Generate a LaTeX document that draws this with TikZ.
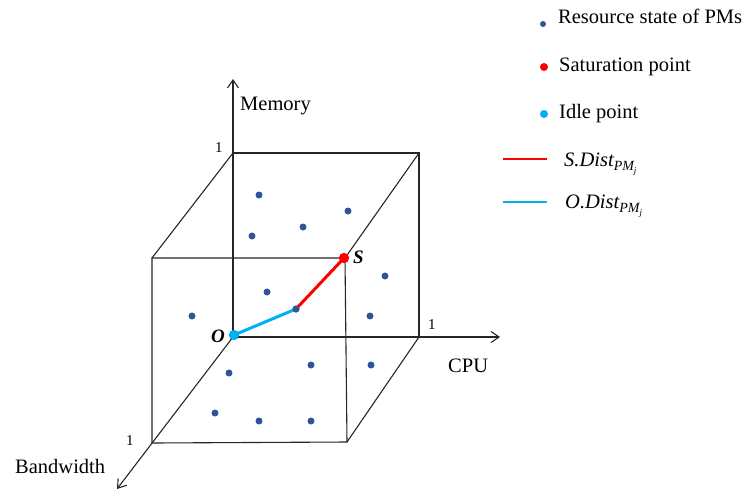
\documentclass[tikz,border=0pt]{standalone}
\usepackage{fontspec}
\setmainfont{Liberation Serif}
\usetikzlibrary{arrows.meta}
\definecolor{ptblue}{RGB}{47,85,151}
\definecolor{satred}{RGB}{255,0,0}
\definecolor{idlecyan}{RGB}{0,176,240}
\tikzset{
  edge/.style={line width=1.1pt, black!85},
  axis/.style={line width=1.1pt, black!85, -{Straight Barb[length=8pt,width=11pt,line width=1.1pt]}},
  pt/.style={circle, fill=ptblue, inner sep=0pt, minimum size=7pt},
  bigpt/.style={circle, inner sep=0pt, minimum size=10pt},
  lbl/.style={inner sep=0pt, anchor=base west, font=\fontsize{20.5}{24}\selectfont},
  onelbl/.style={inner sep=0pt, anchor=base west, font=\fontsize{15}{17}\selectfont},
  corner/.style={font=\fontsize{19}{22}\selectfont\bfseries\itshape, inner sep=0pt, anchor=base west},
  distline/.style={line width=3pt}
}
\newcommand{\distlabel}[1]{{\itshape #1.Dist\raisebox{-4pt}{\fontsize{14}{15}\selectfont PM\raisebox{-3pt}{\fontsize{9}{10}\selectfont j}}}}
\begin{document}
\begin{tikzpicture}[x=1pt,y=-1pt]
\useasboundingbox (0,0) rectangle (747,491);
% cube corners
\coordinate (O) at (233,337);
\coordinate (BTL) at (233,153);
\coordinate (BTR) at (419,153);
\coordinate (BBR) at (419,337);
\coordinate (FTL) at (152,258);
\coordinate (FTR) at (345,258);
\coordinate (FBR) at (347,442);
\coordinate (FBL) at (152,443);
\coordinate (CPUend) at (500,337);
\coordinate (MEMend) at (233,79);
\coordinate (BWend) at (117,489);
% cube edges
\draw[edge] (BTL) -- (BTR) -- (BBR);
\draw[edge] (FTL) -- (FTR) -- (FBR) -- (FBL) -- cycle;
\draw[edge] (BTL) -- (FTL);
\draw[edge] (BTR) -- (FTR);
\draw[edge] (BBR) -- (FBR);
% axes
\draw[axis] (O) -- (CPUend);
\draw[axis] (O) -- (MEMend);
\draw[axis] (O) -- (BWend);
% axis labels
\node[lbl] (memlbl) at (240,110) {Memory};
\node[lbl] (cpulbl) at (448,372) {CPU};
\node[lbl] (bwlbl) at (15,473) {Bandwidth};
\node[onelbl] (one1) at (215,152) {1};
\node[onelbl] (one2) at (428,329) {1};
\node[onelbl] (one3) at (126,445) {1};
% resource points
\node[pt] (p1) at (259,195) {};
\node[pt] (p2) at (348,211) {};
\node[pt] (p3) at (303,227) {};
\node[pt] (p4) at (252,236) {};
\node[pt] (p5) at (385,276) {};
\node[pt] (p6) at (267,292) {};
\node[pt] (p7) at (192,316) {};
\node[pt] (p8) at (370,316) {};
\node[pt] (p9) at (229,373) {};
\node[pt] (p10) at (311,365) {};
\node[pt] (p11) at (371,365) {};
\node[pt] (p12) at (215,413) {};
\node[pt] (p13) at (259,421) {};
\node[pt] (p14) at (311,421) {};
\node[pt] (pj) at (296,309) {};
% distances
\node[bigpt, fill=satred] (S) at (344,258) {};
\node[bigpt, fill=idlecyan] (Onode) at (234,335) {};
\draw[distline, satred] (pj.center) -- (S.center);
\draw[distline, idlecyan] (Onode.center) -- (pj.center);
\node[pt] at (pj) {};
\node[bigpt, fill=satred] at (S) {};
\node[bigpt, fill=idlecyan] at (Onode) {};
\node[corner] (Slbl) at (353,263) {S};
\node[corner] (Olbl) at (211,342) {O};
% legend
\node[circle, fill=ptblue, inner sep=0pt, minimum size=6pt] (leg1) at (543,24) {};
\node[lbl] (legt1) at (558,23) {Resource state of PMs};
\node[circle, fill=satred, inner sep=0pt, minimum size=8pt] (leg2) at (544,67) {};
\node[lbl] (legt2) at (559,71) {Saturation point};
\node[circle, fill=idlecyan, inner sep=0pt, minimum size=8pt] (leg3) at (544,114) {};
\node[lbl] (legt3) at (559,118) {Idle point};
\coordinate (l4a) at (503,159);
\coordinate (l4b) at (547,159);
\draw[satred, line width=2.5pt] (l4a) -- (l4b);
\node[lbl] (legt4) at (564,166) {\distlabel{S}};
\coordinate (l5a) at (503,202);
\coordinate (l5b) at (547,202);
\draw[idlecyan, line width=2.5pt] (l5a) -- (l5b);
\node[lbl] (legt5) at (565,208) {\distlabel{O}};
\end{tikzpicture}
\end{document}
